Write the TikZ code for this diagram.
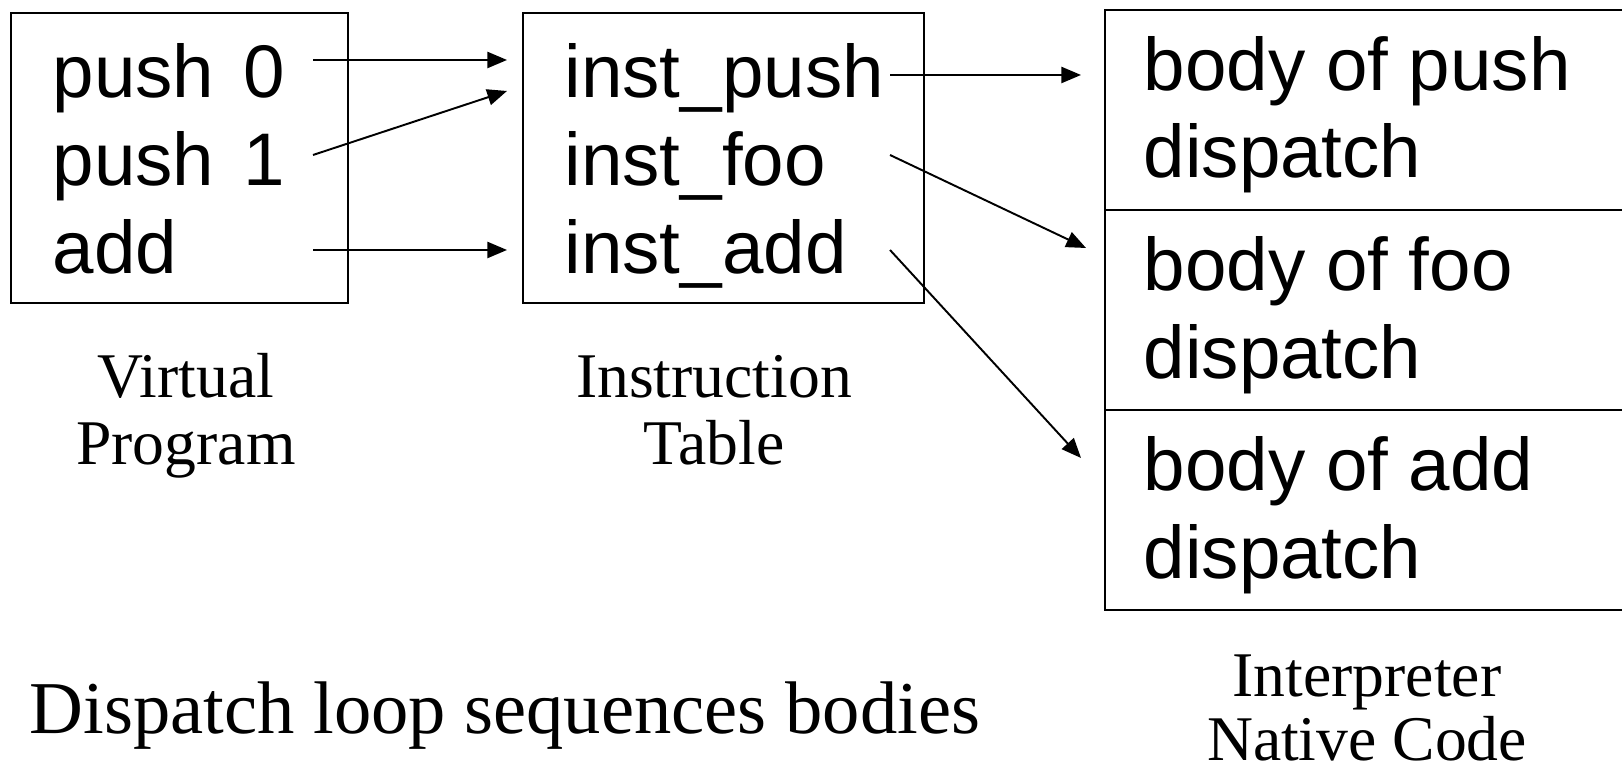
\documentclass[tikz,border=0pt]{standalone}
\usepackage{fontspec}
\setmainfont{Liberation Serif}
\setsansfont{Liberation Sans}
\usetikzlibrary{arrows.meta}
\begin{document}
\begin{tikzpicture}[x=0.01cm,y=-0.01cm,
  box/.style={draw,line width=0.55pt,inner sep=0,anchor=north west},
  code/.style={font=\sffamily\fontsize{21.2}{25}\selectfont,anchor=base west,inner sep=0},
  captxt/.style={font=\fontsize{18.1}{19}\selectfont,anchor=base,inner sep=0},
  titletxt/.style={font=\fontsize{21.2}{25}\selectfont,anchor=base west,inner sep=0},
  arr/.style={line width=0.55pt,-{Triangle[length=5.6pt,width=4.6pt]}}]
\useasboundingbox (0,0) rectangle (1622,768);
% boxes
\node[box,minimum width=3.37cm,minimum height=2.90cm] (vp) at (10,12) {};
\node[box,minimum width=4.01cm,minimum height=2.90cm] (it) at (522,12) {};
\node[box,minimum width=5.40cm,minimum height=2.00cm] (c1) at (1104,9) {};
\node[box,minimum width=5.40cm,minimum height=2.00cm] (c2) at (1104,209) {};
\node[box,minimum width=5.40cm,minimum height=2.00cm] (c3) at (1104,409) {};
% virtual program
\node[code] (p0) at (52,98) {push\kern0.11em\ 0};
\node[code] (p1) at (52,186) {push\kern0.11em\ 1};
\node[code] (ad) at (52,274) {add};
% instruction table
\node[code] (ip) at (564,98) {inst\_push};
\node[code] (if) at (564,186) {inst\_foo};
\node[code] (ia) at (564,274) {inst\_add};
% native code
\node[code] (b1) at (1143,91) {body of push};
\node[code] (d1) at (1143,178) {dispatch};
\node[code] (b2) at (1143,291) {body of foo};
\node[code] (d2) at (1143,379) {dispatch};
\node[code] (b3) at (1143,491) {body of add};
\node[code] (d3) at (1143,579) {dispatch};
% captions
\node[captxt] (vp1) at (186,398) {Virtual};
\node[captxt] (vp2) at (186,465) {Program};
\node[captxt] (it1) at (714,398) {Instruction};
\node[captxt] (it2) at (714,465) {Table};
\node[captxt] (nc1) at (1367,697) {Interpreter};
\node[captxt] (nc2) at (1367,761) {Native Code};
\node[titletxt] (ttl) at (29,734) {Dispatch loop sequences bodies};
% connector ends
\coordinate (p0o) at (313,60);
\coordinate (p1o) at (313,155);
\coordinate (ado) at (313,250);
\coordinate (ipi1) at (507,60);
\coordinate (ipi2) at (507,91);
\coordinate (iai) at (507,250);
\coordinate (ipo) at (890,75);
\coordinate (ifo) at (890,155);
\coordinate (iao) at (890,250);
\coordinate (c1i) at (1081,75);
\coordinate (c2i) at (1086,248);
\coordinate (c3i) at (1081,458);
\draw[arr] (p0o) -- (ipi1);
\draw[arr] (p1o) -- (ipi2);
\draw[arr] (ado) -- (iai);
\draw[arr] (ipo) -- (c1i);
\draw[arr] (ifo) -- (c2i);
\draw[arr] (iao) -- (c3i);
\end{tikzpicture}
\end{document}
